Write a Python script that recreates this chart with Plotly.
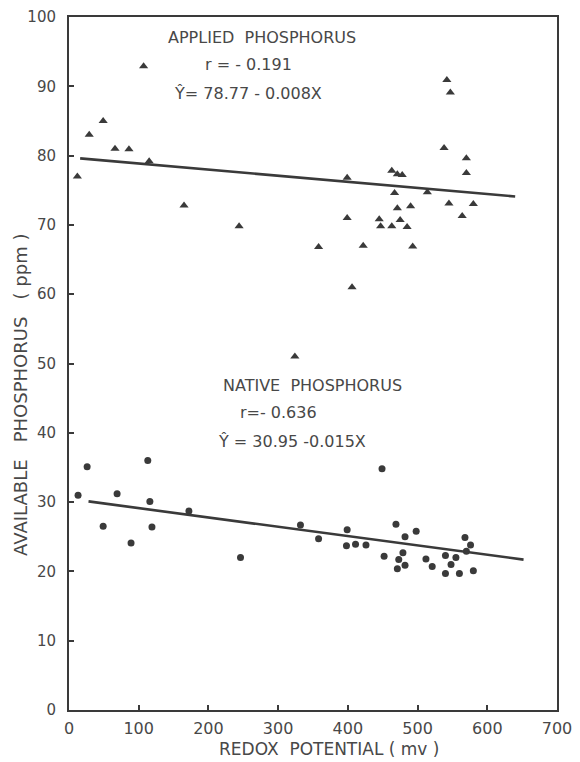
import plotly.graph_objects as go

# Applied phosphorus (triangles): redox potential (mv), available P (ppm)
applied_x = [12, 29, 49, 66, 86, 107, 115, 165, 244,
             542, 547, 538, 570, 570, 463, 471, 478, 399, 467, 514, 545, 580,
             471, 490, 564, 399, 445, 475, 447, 463, 485, 358, 422, 493,
             406, 324]
applied_y = [77.0, 83.0, 85.0, 81.0, 80.9, 92.9, 79.2, 72.8, 69.8,
             90.9, 89.1, 81.1, 79.6, 77.5, 77.8, 77.3, 77.2, 76.8, 74.6, 74.7, 73.1, 73.0,
             72.4, 72.7, 71.3, 71.0, 70.8, 70.7, 69.8, 69.8, 69.7, 66.8, 67.0, 66.9,
             61.0, 51.0]

# Native phosphorus (circles)
native_x = [13, 26, 113, 69, 116, 49, 119, 89, 172, 246, 332,
            449, 358, 399, 398, 411, 426, 469, 482, 498, 452, 479, 473, 482,
            471, 512, 521, 540, 555, 548, 540, 560, 580, 568, 576, 570]
native_y = [31.0, 35.1, 36.0, 31.2, 30.1, 26.5, 26.4, 24.1, 28.7, 22.0, 26.7,
            34.8, 24.7, 26.0, 23.7, 23.9, 23.8, 26.8, 25.0, 25.8, 22.2, 22.7, 21.7, 20.9,
            20.4, 21.8, 20.7, 22.3, 22.0, 21.0, 19.7, 19.7, 20.1, 24.9, 23.8, 22.9]

# Regression lines as drawn (end points)
applied_line_x = [16, 640]
applied_line_y = [79.6, 74.1]
native_line_x = [28, 652]
native_line_y = [30.1, 21.7]

x_ticks = [0, 100, 200, 300, 400, 500, 600, 700]
y_ticks = [0, 10, 20, 30, 40, 50, 60, 70, 80, 90, 100]

INK = "#3a3a3a"
TXT = "#484848"
FONT = "DejaVu Sans"

fig = go.Figure()
fig.add_trace(go.Scatter(x=applied_line_x, y=applied_line_y, mode="lines",
                         line=dict(color=INK, width=2.6), showlegend=False))
fig.add_trace(go.Scatter(x=native_line_x, y=native_line_y, mode="lines",
                         line=dict(color=INK, width=2.6), showlegend=False))
fig.add_trace(go.Scatter(x=applied_x, y=applied_y, mode="markers",
                         marker=dict(symbol="triangle-up", size=8, color=INK),
                         showlegend=False))
fig.add_trace(go.Scatter(x=native_x, y=native_y, mode="markers",
                         marker=dict(symbol="circle", size=7, color=INK),
                         showlegend=False))

ann = [
    ("APPLIED  PHOSPHORUS", 277, 97.0),
    ("r = - 0.191", 258, 93.1),
    ("Ŷ= 78.77 - 0.008X", 257, 89.0),
    ("NATIVE  PHOSPHORUS", 349, 46.8),
    ("r=- 0.636", 301, 42.9),
    ("Ŷ = 30.95 -0.015X", 320, 38.8),
]
annotations = [dict(text=t, x=x, y=y, xref="x", yref="y", showarrow=False,
                    xanchor="center", yanchor="middle",
                    font=dict(family=FONT, size=16, color=TXT))
               for t, x, y in ann]
annotations.append(dict(text="REDOX  POTENTIAL ( mv )", x=0.533, y=-0.0565,
                        xref="paper", yref="paper", showarrow=False,
                        xanchor="center", yanchor="middle",
                        font=dict(family=FONT, size=17, color=TXT)))
annotations.append(dict(text="AVAILABLE   PHOSPHORUS   ( ppm )", x=-0.1, y=0.455,
                        xref="paper", yref="paper", showarrow=False, textangle=-90,
                        xanchor="center", yanchor="middle",
                        font=dict(family=FONT, size=18, color=TXT)))

fig.update_layout(
    width=580, height=762,
    margin=dict(l=61, r=31, t=9, b=60, autoexpand=False),
    paper_bgcolor="white", plot_bgcolor="white",
    annotations=annotations,
    xaxis=dict(range=[0, 700], tickvals=x_ticks, ticks="inside", ticklen=5,
               tickwidth=2, tickcolor=INK, showline=True, linewidth=2,
               linecolor=INK, mirror=True, showgrid=False, zeroline=False,
               ticklabelstandoff=3, automargin=False, ticklabeloverflow="allow",
               tickfont=dict(family=FONT, size=16, color=TXT)),
    yaxis=dict(range=[0, 100], tickvals=y_ticks, ticks="inside", ticklen=5,
               tickwidth=2, tickcolor=INK, showline=True, linewidth=2,
               linecolor=INK, mirror=True, showgrid=False, zeroline=False,
               ticklabelstandoff=8, automargin=False, ticklabeloverflow="allow",
               tickfont=dict(family=FONT, size=15, color=TXT)),
)

fig.write_html("out.html")
